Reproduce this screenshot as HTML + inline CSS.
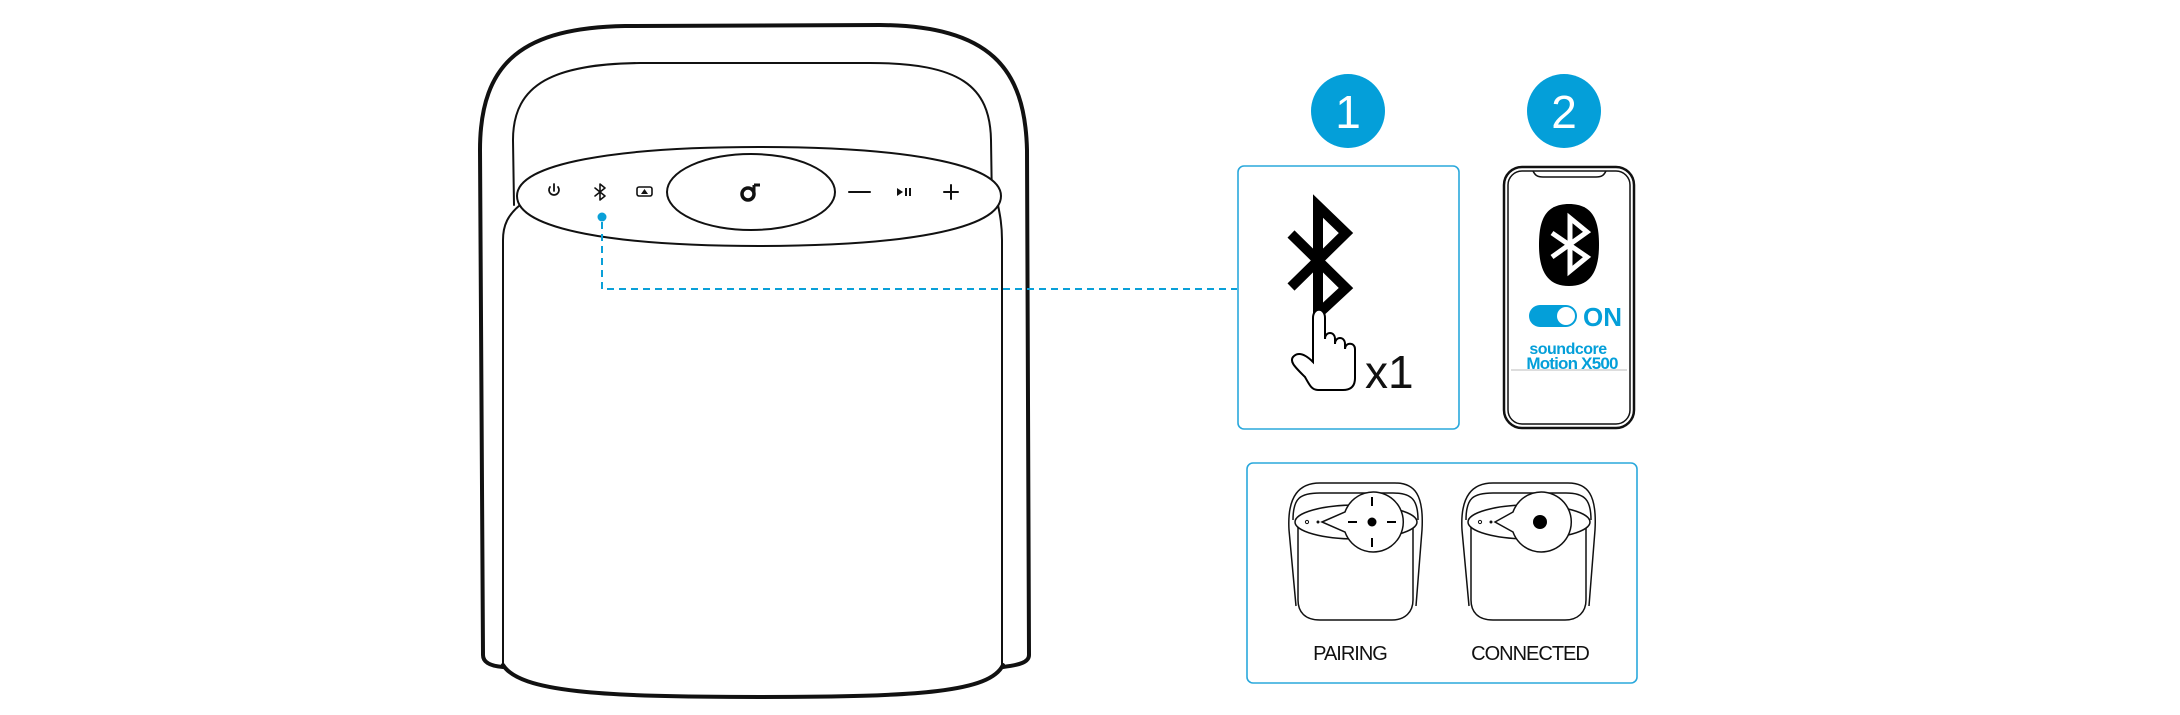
<!DOCTYPE html>
<html><head><meta charset="utf-8"><style>
html,body{margin:0;padding:0;background:#fff;}
svg{display:block}
text{font-family:"Liberation Sans",sans-serif}
</style></head><body>
<svg width="2180" height="715" viewBox="0 0 2180 715" xmlns="http://www.w3.org/2000/svg">
<g fill="none" stroke="#111" stroke-linecap="round" stroke-linejoin="round">
  <path d="M503 667 C490 666 483 662 483 655 L480 150 C480 60 525 28 625 26 L880 25 C990 26 1025 68 1027 150 L1029 655 C1029 662 1020 665 1003 667" stroke-width="4"/>
  <path d="M503 665 C520 692 600 697 760 697 C920 697 990 692 1003 665" stroke-width="4"/>
  <path d="M520 205 C508 215 503 225 503 240 L503 665" stroke-width="2"/>
  <path d="M998 205 C1000 215 1002 225 1002 240 L1002 665" stroke-width="2"/>
  <path d="M514 205 L513 140 C513 83 555 64 640 63 L870 63 C960 63 990 86 991 140 L992 205" stroke-width="2"/>
  <path d="M759 147 C900 147 1001 163 1001 196 C1001 230 900 246 759 246 C618 246 517 230 517 196 C517 163 618 147 759 147 Z" fill="#fff" stroke-width="2"/>
  <ellipse cx="751" cy="192" rx="84" ry="38" stroke-width="2"/>
  <path d="M550 187 A5 5 0 1 0 558 187 M554 184 V191" stroke-width="1.8"/>
  <path d="M595 188 L605 196 L600 200 V184 L605 188 L595 196" stroke-width="1.6"/>
  <rect x="637" y="187" width="15" height="9" rx="2" stroke-width="1.6"/>
  <path d="M849 192 H870" stroke-width="2"/>
  <path d="M944 192 H958 M951 185 V199" stroke-width="2"/>
</g>
<path d="M641 194 L644.5 189 L648 194 Z" fill="#111"/>
<path d="M897 188 L903 192 L897 196 Z" fill="#111"/>
<rect x="905" y="188" width="2" height="8" fill="#111"/><rect x="909" y="188" width="2" height="8" fill="#111"/>
<circle cx="748" cy="194" r="6" fill="none" stroke="#111" stroke-width="3.5"/>
<path d="M754 194 V185 M754 185 H760" stroke="#111" stroke-width="3"/>
<circle cx="602" cy="217" r="4.5" fill="#0aa0d8"/>
<path d="M602 222 V289 H1237" fill="none" stroke="#0aa0d8" stroke-width="2" stroke-dasharray="7 5"/>

<circle cx="1348" cy="111" r="37" fill="#049fd9"/>
<text x="1348" y="128" font-size="46" fill="#fff" text-anchor="middle">1</text>
<circle cx="1564" cy="111" r="37" fill="#049fd9"/>
<text x="1564" y="128" font-size="46" fill="#fff" text-anchor="middle">2</text>

<rect x="1238" y="166" width="221" height="263" rx="6" fill="none" stroke="#2aa8dc" stroke-width="1.6"/>
<path d="M1291 234 L1346 288 L1318 314 V206 L1346 233 L1291 287" fill="none" stroke="#000" stroke-width="10"/>
<path d="M1305 377 C1296 368 1288 361 1294 356 C1300 351 1308 357 1313 362 L1313 318 C1313 307 1325 307 1325 318 L1325 339 C1325 331 1335 331 1335 339 L1335 344 C1335 336 1345 336 1345 344 L1345 349 C1345 342 1355 342 1355 349 L1355 378 C1355 386 1351 390 1343 390 L1318 390 C1312 390 1310 386 1305 377 Z" fill="#fff" stroke="#000" stroke-width="2"/>
<text x="1365" y="388" font-size="46" fill="#111">x1</text>

<rect x="1504" y="167" width="130" height="261" rx="18" fill="none" stroke="#111" stroke-width="2.5"/>
<rect x="1508" y="171" width="122" height="253" rx="14" fill="none" stroke="#111" stroke-width="1.5"/>
<path d="M1533 171 C1535 175 1537 177 1543 177 H1596 C1602 177 1604 175 1606 171" fill="none" stroke="#111" stroke-width="1.5"/>
<path d="M1569 204 C1594 204 1599 222 1599 245 C1599 272 1590 286 1569 286 C1548 286 1539 272 1539 245 C1539 222 1544 204 1569 204 Z" fill="#000"/>
<path d="M1552 233 L1587 257 L1570 271 V218 L1587 232 L1552 257" fill="none" stroke="#fff" stroke-width="5"/>
<rect x="1529" y="305" width="48" height="22" rx="11" fill="#049fd9"/>
<circle cx="1566" cy="316" r="9" fill="#fff"/>
<text x="1583" y="326" font-size="26" font-weight="bold" fill="#049fd9">ON</text>
<text x="1568" y="354" font-size="16" font-weight="bold" fill="#049fd9" text-anchor="middle" letter-spacing="-0.5">soundcore</text>
<text x="1572" y="369" font-size="17" font-weight="bold" fill="#049fd9" text-anchor="middle" letter-spacing="-0.8">Motion X500</text>
<path d="M1511 370 H1627" stroke="#bbb" stroke-width="1"/>

<rect x="1247" y="463" width="390" height="220" rx="6" fill="none" stroke="#2aa8dc" stroke-width="1.6"/>
<g fill="none" stroke="#111" stroke-width="1.5">
 <g id="mini">
  <path d="M1296 606 L1289 530 C1287 495 1300 483 1320 483 H1395 C1415 483 1424 495 1422 530 L1416 606"/>
  <path d="M1293 520 C1293 498 1300 493 1320 493 H1393 C1412 493 1418 500 1418 520"/>
  <path d="M1298 520 V600 C1298 612 1305 620 1320 620 H1392 C1405 620 1413 612 1413 600 V520"/>
  <ellipse cx="1356" cy="522" rx="61" ry="17" fill="#fff"/>
 </g>
 <use href="#mini" x="173"/>
</g>
<path d="M1322 522 L1345 512 A30 30 0 1 1 1345 532 Z" fill="#fff" stroke="#111" stroke-width="1.5"/>
<circle cx="1307" cy="522" r="1.6" fill="none" stroke="#111"/><circle cx="1318" cy="522" r="1.5" fill="#111"/>
<circle cx="1372" cy="522" r="4.5" fill="#000"/>
<path d="M1372 497 V506 M1372 538 V547 M1348 522 H1357 M1387 522 H1396" stroke="#000" stroke-width="2"/>
<path d="M1495 522 L1513 512 A30 30 0 1 1 1513 532 Z" fill="#fff" stroke="#111" stroke-width="1.5"/>
<circle cx="1480" cy="522" r="1.6" fill="none" stroke="#111"/><circle cx="1491" cy="522" r="1.5" fill="#111"/>
<circle cx="1540" cy="522" r="7" fill="#000"/>
<text x="1350" y="660" font-size="20" fill="#111" text-anchor="middle" letter-spacing="-1">PAIRING</text>
<text x="1530" y="660" font-size="20" fill="#111" text-anchor="middle" letter-spacing="-1">CONNECTED</text>
</svg>
</body></html>
